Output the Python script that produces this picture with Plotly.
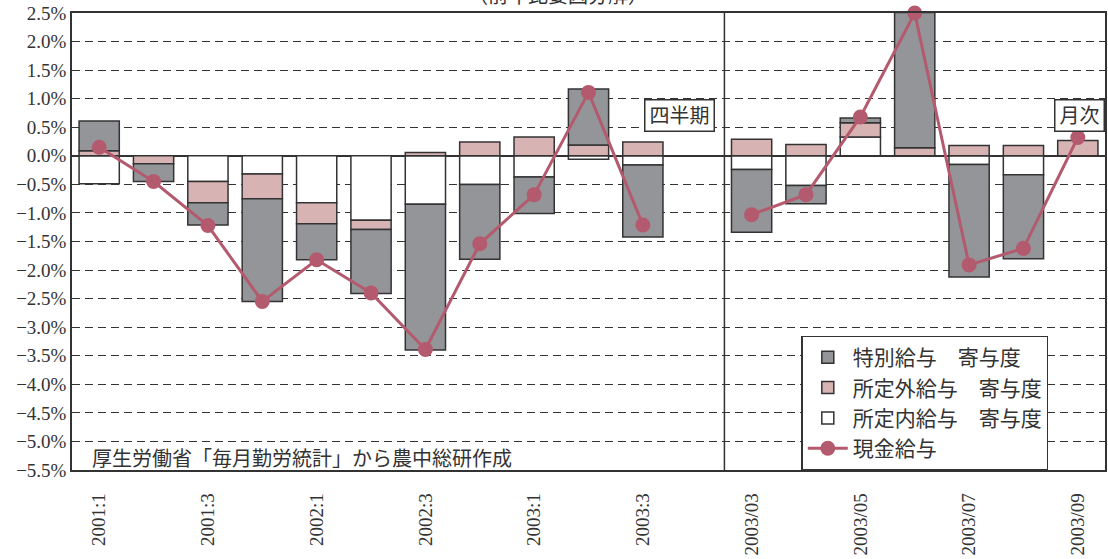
import plotly.graph_objects as go

categories = ["2001:1", "2001:2", "2001:3", "2001:4", "2002:1", "2002:2", "2002:3", "2002:4",
              "2003:1", "2003:2", "2003:3", " ",
              "2003/03", "2003/04", "2003/05", "2003/06", "2003/07", "2003/08", "2003/09"]
shown_ticks = ["2001:1", "2001:3", "2002:1", "2002:3", "2003:1", "2003:3",
               "2003/03", "2003/05", "2003/07", "2003/09"]

# contributions (percentage points)
shoteinai = [-0.49, None, -0.45, -0.32, -0.82, -1.13, -0.85, -0.50, -0.37, -0.06, -0.16, None,
             -0.24, -0.52, 0.33, None, -0.15, -0.33, None]
shoteigai = [0.09, -0.14, -0.37, -0.43, -0.37, -0.16, 0.06, 0.24, 0.33, 0.19, 0.24, None,
             0.29, 0.20, 0.25, 0.14, 0.18, 0.18, 0.27]
tokubetsu = [0.52, -0.31, -0.39, -1.80, -0.63, -1.12, -2.55, -1.31, -0.64, 0.98, -1.26, None,
             -1.10, -0.32, 0.08, 2.37, -1.97, -1.47, None]
genkin = [0.15, -0.45, -1.22, -2.55, -1.82, -2.40, -3.39, -1.54, -0.68, 1.11, -1.21, None,
          -1.03, -0.68, 0.68, 2.50, -1.91, -1.62, 0.32]

EDGE = "#333333"
FONT = "Liberation Serif, Noto Sans CJK JP"

fig = go.Figure()
fig.add_trace(go.Bar(x=categories, y=shoteinai, name="所定内給与　寄与度",
                     marker=dict(color="#ffffff", line=dict(color=EDGE, width=1.5)),
                     legendrank=3, legendgroup="c"))
fig.add_trace(go.Bar(x=categories, y=shoteigai, name="所定外給与　寄与度",
                     marker=dict(color="#d8b3b3", line=dict(color=EDGE, width=1.5)),
                     legendrank=2, legendgroup="b"))
fig.add_trace(go.Bar(x=categories, y=tokubetsu, name="特別給与　寄与度",
                     marker=dict(color="#939598", line=dict(color=EDGE, width=1.5)),
                     legendrank=1, legendgroup="a"))
fig.add_trace(go.Scatter(x=categories, y=genkin, name="現金給与", mode="lines+markers",
                         line=dict(color="#b45a6e", width=3),
                         marker=dict(color="#b45a6e", size=15),
                         legendrank=4, legendgroup="d", cliponaxis=False))

fig.add_shape(type="line", xref="x", yref="paper", x0=11.5, x1=11.5, y0=0, y1=1,
              line=dict(color=EDGE, width=1.5))

fig.add_annotation(text="四半期", xref="paper", yref="paper", x=0.588, y=0.812,
                   showarrow=False, bgcolor="#ffffff", bordercolor=EDGE, borderwidth=1.5,
                   borderpad=4, font=dict(size=20, color="#333333"))
fig.add_annotation(text="月次", xref="paper", yref="paper", x=1, y=0.812, xanchor="right",
                   showarrow=False, bgcolor="#ffffff", bordercolor=EDGE, borderwidth=1.5,
                   borderpad=4, font=dict(size=20, color="#333333"))
fig.add_annotation(text="厚生労働省「毎月勤労統計」から農中総研作成", xref="paper", yref="paper",
                   x=0.017, y=0.024, xanchor="left", yanchor="middle", showarrow=False,
                   font=dict(size=20, color="#333333"))
fig.add_annotation(text="（前年比要因分解）", xref="paper", yref="paper",
                   x=0.47, y=1, xanchor="center", yanchor="bottom", yshift=4,
                   showarrow=False, font=dict(size=20, color="#333333"))

fig.update_layout(
    width=1108, height=559,
    margin=dict(l=72, r=3, t=13, b=89, autoexpand=False),
    barmode="relative", bargap=0.26,
    plot_bgcolor="#ffffff", paper_bgcolor="#ffffff",
    font=dict(family=FONT, size=19, color="#333333"),
    showlegend=True,
    legend=dict(x=0.706, y=0.294, xanchor="left", yanchor="top",
                bgcolor="#ffffff", bordercolor=EDGE, borderwidth=1.5,
                font=dict(size=21, color="#333333"), tracegroupgap=2,
                traceorder="normal", itemwidth=40),
)
fig.update_xaxes(type="category", categoryorder="array", categoryarray=categories,
                 range=[-0.5, len(categories) - 0.5],
                 tickmode="array", tickvals=shown_ticks, ticktext=shown_ticks,
                 tickangle=-90, showgrid=False, showline=True, linecolor=EDGE,
                 linewidth=1.5, mirror=True, ticks="", ticklabelstandoff=14, automargin=False,
                 tickfont=dict(family="Liberation Serif", size=19, color="#333333"))
fig.update_yaxes(range=[-5.5, 2.5], dtick=0.5, tick0=0, tickformat=".1f", ticksuffix="%",
                 showgrid=True, gridcolor=EDGE, gridwidth=1.2, griddash="8px,5px",
                 zeroline=True, zerolinecolor=EDGE, zerolinewidth=1.5, automargin=False,
                 showline=True, linecolor=EDGE, linewidth=1.5, mirror=True, ticks="",
                 tickfont=dict(family="Liberation Serif", size=19, color="#333333"))

fig.write_html("out.html", config={"displayModeBar": False},
               post_script="document.body.style.margin='0';document.body.style.overflow='hidden';")
